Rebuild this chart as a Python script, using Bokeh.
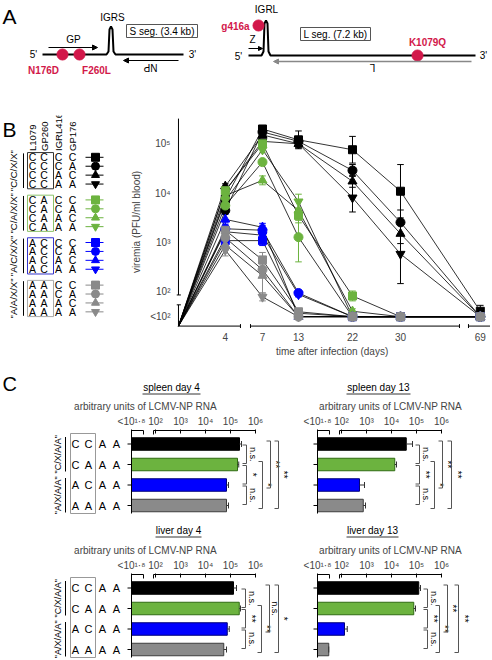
import math
from bokeh.plotting import figure
from bokeh.layouts import column, row
from bokeh.models import Range1d, LinearAxis, FixedTicker, Arrow, NormalHead
from bokeh.core.properties import value
from bokeh.embed import file_html
from bokeh.resources import INLINE

FONT = "Liberation Sans"

# ---------------------------------------------------------------- data
# Panel B: viremia, log10(PFU/ml blood); 1.5 stands for "<10²" (below detection)
DAYS = [4, 7, 13, 22, 30, 69]
TABLE_HEADERS = ["L1079", "GP260", "IGRL416", "GP176"]
GROUP_NAMES = ['"C/C/X/X"', '"C/A/X/X"', '"A/C/X/X"', '"A/A/X/X"']
GROUP_CODES = [["C", "C"], ["C", "A"], ["A", "C"], ["A", "A"]]      # L1079, GP260
SUB_CODES = [["C", "C"], ["C", "A"], ["A", "C"], ["A", "A"]]        # IGRL416, GP176
MARKERS = ["square", "circle", "triangle", "inverted_triangle"]

VIREMIA_CC = [[3.88, 5.30, 5.08, 4.88, 4.04, 1.61],
              [3.65, 5.24, 5.05, 4.46, 3.41, 1.50],
              [4.14, 5.18, 5.00, 4.24, 3.18, 1.50],
              [4.05, 5.05, 5.00, 3.91, 2.77, 1.50]]
ERR_CC = [[0.08, 0.04, 0.18, 0.27, 0.54, 0.12],
          [0.05, 0.04, 0.10, 0.12, 0.25, 0.00],
          [0.05, 0.04, 0.08, 0.12, 0.20, 0.00],
          [0.05, 0.04, 0.08, 0.29, 0.60, 0.00]]
VIREMIA_CA = [[4.05, 5.00, 3.55, 1.92, 1.50, 1.50],
              [3.75, 4.63, 3.11, 1.50, 1.50, 1.50],
              [3.95, 4.26, 3.65, 1.61, 1.50, 1.50],
              [3.85, 4.88, 3.83, 1.50, 1.50, 1.50]]
ERR_CA = [[0.05, 0.05, 0.15, 0.10, 0.0, 0.0],
          [0.05, 0.05, 0.50, 0.00, 0.0, 0.0],
          [0.05, 0.09, 0.20, 0.05, 0.0, 0.0],
          [0.05, 0.05, 0.15, 0.00, 0.0, 0.0]]
VIREMIA_AC = [[3.04, 3.04, 1.57, 1.50, 1.50, 1.50],
              [3.28, 3.25, 1.98, 1.50, 1.50, 1.50],
              [3.47, 3.31, 1.50, 1.50, 1.50, 1.50],
              [3.22, 3.15, 1.95, 1.50, 1.50, 1.50]]
ERR_AC = [[0.18, 0.10, 0.08, 0.0, 0.0, 0.0],
          [0.12, 0.10, 0.06, 0.0, 0.0, 0.0],
          [0.10, 0.08, 0.00, 0.0, 0.0, 0.0],
          [0.12, 0.10, 0.05, 0.0, 0.0, 0.0]]
VIREMIA_AA = [[3.25, 2.65, 1.60, 1.50, 1.50, 1.50],
              [3.10, 2.45, 1.50, 1.50, 1.50, 1.50],
              [2.95, 2.33, 1.50, 1.50, 1.50, 1.50],
              [2.85, 1.90, 1.50, 1.50, 1.50, 1.50]]
ERR_AA = [[0.10, 0.15, 0.05, 0.0, 0.0, 0.0],
          [0.10, 0.10, 0.00, 0.0, 0.0, 0.0],
          [0.10, 0.35, 0.00, 0.0, 0.0, 0.0],
          [0.12, 0.08, 0.00, 0.0, 0.0, 0.0]]
VIREMIA = [VIREMIA_CC, VIREMIA_CA, VIREMIA_AC, VIREMIA_AA]
VIREMIA_ERR = [ERR_CC, ERR_CA, ERR_AC, ERR_AA]
Y_TICKS = [1.5, 2, 3, 4, 5]
Y_TICK_LABELS = ["<10²", "10²", "10³", "10⁴", "10⁵"]

# Panel C: log10 arbitrary units of LCMV-NP RNA
C_ROWS = [["C", "C", "A", "A"], ["C", "A", "A", "A"], ["A", "C", "A", "A"], ["A", "A", "A", "A"]]
C_GROUPS = ['"C/X/A/A"', '"A/X/A/A"']
SPLEEN_D4 = [5.36, 5.28, 4.84, 4.84]
SPLEEN_D4_ERR = [0.08, 0.05, 0.08, 0.08]
SPLEEN_D13 = [4.59, 4.13, 2.72, 2.87]
SPLEEN_D13_ERR = [0.25, 0.07, 0.20, 0.09]
LIVER_D4 = [5.12, 5.35, 4.87, 4.73]
LIVER_D4_ERR = [0.12, 0.05, 0.08, 0.11]
LIVER_D13 = [5.09, 4.89, 2.12, 1.49]
LIVER_D13_ERR = [0.07, 0.07, 0.11, 0.0]
C_TICKS = [1.04, 2, 3, 4, 5, 6]
C_TICK_LABELS = ["<10¹·⁸", "10²", "10³", "10⁴", "10⁵", "10⁶"]
SIG_SPLEEN_D4 = {(0, 1): "n.s.", (1, 2): "*", (2, 3): "n.s.", (1, 3): "*", (0, 2): "**", (0, 3): "**"}
SIG_SPLEEN_D13 = {(0, 1): "n.s.", (1, 2): "**", (2, 3): "n.s.", (1, 3): "*", (0, 2): "**", (0, 3): "**"}
SIG_LIVER_D4 = {(0, 1): "n.s.", (1, 2): "**", (2, 3): "n.s.", (1, 3): "**", (0, 2): "n.s.", (0, 3): "*"}
SIG_LIVER_D13 = {(0, 1): "n.s.", (1, 2): "**", (2, 3): "n.s.", (1, 3): "**", (0, 2): "**", (0, 3): "**"}

# ---------------------------------------------------------------- styles
GROUP_COLORS = ["#000000", "#6cb33f", "#0000ff", "#8a8a8a"]
BOX_COLORS = ["#333333", "#8cc26a", "#3333cc", "#aaaaaa"]
BAR_EDGE = ["#000000", "#2f6b12", "#00007a", "#3c3c3c"]
RED = "#d2184a"


def make_fig(w, h, xr, yr, bl=0, br=0, bt=0, bb=0):
    p = figure(width=w, height=h, x_range=xr, y_range=yr, x_axis_type=None, y_axis_type=None,
               output_backend="svg", toolbar_location=None,
               min_border_left=bl, min_border_right=br, min_border_top=bt, min_border_bottom=bb)
    p.outline_line_color = None
    p.background_fill_color = "white"
    p.border_fill_color = "white"
    return p


def T(p, x, y, s, size=10, color="#000000", align="center", baseline="middle", angle=0.0, bold=False, xr=None):
    kw = {"x_range_name": xr} if xr else {}
    p.text(x=[x], y=[y], text=[s], text_font=value(FONT), text_font_size=f"{size}px",
           text_color=color, text_align=align, text_baseline=baseline, angle=angle,
           text_font_style="bold" if bold else "normal", **kw)


def overrides(ticks, labels):
    d = {}
    for t, l in zip(ticks, labels):
        d[t] = l
        d[str(t)] = l
    return d


# ---------------------------------------------------------------- panel A (schematic)
pa = make_fig(490, 95, Range1d(0, 490), Range1d(95, 0))
T(pa, 2, 16, "A", size=21, align="left")
pa.line([42, 106, 108, 109, 110.5, 112, 113, 115, 183], [54, 54, 51, 29, 26, 29, 51, 54, 54],
        line_width=2, line_color="black")
T(pa, 33, 54, "5'", size=10)
T(pa, 192, 54, "3'", size=10)
T(pa, 112, 17, "IGRS", size=10)
pa.quad(left=[126], right=[197], top=[24], bottom=[37], fill_color=None, line_color="#555555")
T(pa, 161.5, 31, "S seg. (3.4 kb)", size=10)
T(pa, 73, 39, "GP", size=10)
pa.add_layout(Arrow(end=NormalHead(size=5, fill_color="black", line_color="black"),
                    x_start=48, y_start=47, x_end=97, y_end=47, line_width=1))
pa.add_layout(Arrow(end=NormalHead(size=5, fill_color="black", line_color="black"),
                    x_start=178, y_start=60, x_end=123, y_end=60, line_width=1))
T(pa, 150, 67, "NP", size=10, angle=math.pi)
pa.scatter([62, 79], [54, 54], size=11, color=RED)
T(pa, 43, 70, "N176D", size=10, color=RED, bold=True)
T(pa, 96, 70, "F260L", size=10, color=RED, bold=True)

pa.line([248, 261, 263, 264, 265.5, 267, 268, 270, 475], [55, 55, 51, 23, 20, 23, 51, 55, 55],
        line_width=2, line_color="black")
T(pa, 238, 56, "5'", size=10)
T(pa, 483, 55, "3'", size=10)
T(pa, 266, 9, "IGRL", size=10)
pa.scatter([258], [25], size=11, color=RED)
T(pa, 235, 26, "g416a", size=10, color=RED, bold=True)
T(pa, 252, 39, "Z", size=10)
pa.add_layout(Arrow(end=NormalHead(size=4, fill_color="black", line_color="black"),
                    x_start=248, y_start=48, x_end=262, y_end=48, line_width=1))
pa.quad(left=[300], right=[370], top=[27], bottom=[40], fill_color=None, line_color="#555555")
T(pa, 335, 33.5, "L seg. (7.2 kb)", size=10)
pa.scatter([417], [55], size=11, color=RED)
T(pa, 427, 42, "K1079Q", size=10, color=RED, bold=True)
pa.add_layout(Arrow(end=NormalHead(size=5, fill_color="#888888", line_color="#888888"),
                    x_start=471, y_start=61, x_end=273, y_end=61, line_width=1.5, line_color="#888888"))
T(pa, 372, 67, "L", size=10, angle=math.pi)

# ---------------------------------------------------------------- panel B table
pt = make_fig(120, 270, Range1d(0, 120), Range1d(365, 95))
T(pt, 2, 113, "B", size=21, align="left")
COLS = [32, 43.5, 58, 72]
for cx, hname in zip(COLS, TABLE_HEADERS):
    T(pt, cx, 140, hname, size=9.5, align="left", angle=math.pi / 2)
for g in range(4):
    ys = [148 + 54 * g + 11.3 * r for r in range(4)]
    for r in range(4):
        letters = GROUP_CODES[g] + SUB_CODES[r]
        for cx, ch in zip(COLS, letters):
            T(pt, cx, ys[r], ch, size=10.5)
        pt.line([85, 103], [ys[r], ys[r]], line_color=GROUP_COLORS[g], line_width=1)
        pt.scatter([95], [ys[r]], marker=MARKERS[r], size=8, color=GROUP_COLORS[g])
    pt.quad(left=[27], right=[53], top=[ys[0] - 6], bottom=[ys[3] + 6], fill_color=None,
            line_color=BOX_COLORS[g], line_width=1)
    pt.line([23, 23], [ys[0] - 5, ys[3] + 5], line_color="black", line_width=1)
    T(pt, 13, (ys[0] + ys[3]) / 2, GROUP_NAMES[g], size=9.5, angle=math.pi / 2)

# ---------------------------------------------------------------- panel B chart
XPOS = [7.8, 14.0, 20.0, 29.0, 37.0, 50.3]     # broken-axis positions of DAYS
ORIGIN_X, ORIGIN_Y = 0.0, 1.31
pb = make_fig(370, 270, Range1d(-0.33, 52.0), Range1d(1.261, 5.573), bl=56, br=0, bt=20, bb=37)
for g in range(4):
    for s in range(4):
        pb.line([ORIGIN_X] + XPOS, [ORIGIN_Y] + VIREMIA[g][s], line_color="black", line_width=0.8)
for g in range(4):
    for s in range(4):
        ex, lo, hi = [], [], []
        for x, v, e in zip(XPOS, VIREMIA[g][s], VIREMIA_ERR[g][s]):
            if e > 0:
                ex.append(x); lo.append(v - e); hi.append(v + e)
        if ex:
            c = GROUP_COLORS[g]
            pb.segment(x0=ex, y0=lo, x1=ex, y1=hi, line_color=c, line_width=1)
            pb.segment(x0=[x - 0.55 for x in ex], y0=lo, x1=[x + 0.55 for x in ex], y1=lo, line_color=c)
            pb.segment(x0=[x - 0.55 for x in ex], y0=hi, x1=[x + 0.55 for x in ex], y1=hi, line_color=c)
for g in range(4):
    for s in range(4):
        pb.scatter(XPOS, VIREMIA[g][s], marker=MARKERS[s], size=9 if s else 8, color=GROUP_COLORS[g])
# broken axes lines
pb.segment(x0=[0, 12, 48.33], y0=[ORIGIN_Y] * 3, x1=[10.33, 46.83, 52], y1=[ORIGIN_Y] * 3,
           line_color="black", line_width=1)
pb.segment(x0=[10.33, 12, 46.83, 48.33], y0=[ORIGIN_Y - 0.04] * 4, x1=[10.33, 12, 46.83, 48.33],
           y1=[ORIGIN_Y + 0.04] * 4, line_color="black")
pb.segment(x0=[0, 0], y0=[ORIGIN_Y, 1.94], x1=[0, 0], y1=[1.74, 5.51], line_color="black", line_width=1)
pb.segment(x0=[-0.33, -0.33], y0=[1.74, 1.94], x1=[0.4, 0.4], y1=[1.74, 1.94], line_color="black")

yax = LinearAxis(ticker=FixedTicker(ticks=Y_TICKS), major_label_overrides=overrides(Y_TICKS, Y_TICK_LABELS),
                 axis_label="viremia (PFU/ml blood)", axis_line_color=None, major_tick_in=0, major_tick_out=0,
                 minor_tick_line_color=None, major_label_standoff=6, axis_label_standoff=5,
                 major_label_text_font=FONT, major_label_text_font_size="10px",
                 axis_label_text_font=FONT, axis_label_text_font_size="10px", axis_label_text_font_style="normal")
pb.add_layout(yax, "left")
xax = LinearAxis(ticker=FixedTicker(ticks=XPOS), major_label_overrides=overrides(XPOS, [str(d) for d in DAYS]),
                 axis_label="time after infection  (days)", axis_line_color=None, major_tick_in=0, major_tick_out=0,
                 minor_tick_line_color=None, major_label_standoff=4, axis_label_standoff=2,
                 major_label_text_font=FONT, major_label_text_font_size="10px",
                 axis_label_text_font=FONT, axis_label_text_font_size="10px", axis_label_text_font_style="normal")
pb.add_layout(xax, "below")

# ---------------------------------------------------------------- panel C headers
ph1 = make_fig(490, 32, Range1d(0, 490), Range1d(397, 365))
T(ph1, 2, 383, "C", size=20, align="left")
T(ph1, 171, 387, "spleen day 4", size=10)
ph1.line([142, 200], [393.5, 393.5], line_color="black", line_width=0.8)
T(ph1, 378, 387, "spleen day 13", size=10)
ph1.line([346, 410], [393.5, 393.5], line_color="black", line_width=0.8)

ph2 = make_fig(490, 25, Range1d(0, 490), Range1d(540, 515))
T(ph2, 178, 530, "liver day 4", size=10)
ph2.line([155, 201], [536.5, 536.5], line_color="black", line_width=0.8)
T(ph2, 372, 530, "liver day 13", size=10)
ph2.line([346, 398], [536.5, 536.5], line_color="black", line_width=0.8)

ROW_OFFS = [13.5, 34, 54.5, 75]
BAR_H = 12.5


def c_panel(w, h, xlo, xhi, ybot, ytop_frame, bt, x0, vals, errs, sig, bpos, left):
    # x range in layout units, "val" range in log10 units (10² sits 24 units right of axis start, 25 per decade)
    p = make_fig(w, h, Range1d(xlo, xhi), Range1d(ybot, ytop_frame), bt=bt)
    v = lambda x: 2 + (x - (x0 + 24)) / 25.0
    p.extra_x_ranges = {"val": Range1d(v(xlo), v(xhi))}
    ax_y = ytop_frame + 1
    rows_y = [ax_y + o for o in ROW_OFFS]
    amin = C_TICKS[0]
    p.hbar(y=rows_y, left=amin, right=vals, height=BAR_H, fill_color=GROUP_COLORS,
           line_color=BAR_EDGE, line_width=1, x_range_name="val")
    ex = [b + e for b, e in zip(vals, errs)]
    p.segment(x0=vals, y0=rows_y, x1=ex, y1=rows_y, line_color="#333333", x_range_name="val")
    p.segment(x0=ex, y0=[y - 3 for y in rows_y], x1=ex, y1=[y + 3 for y in rows_y],
              line_color="#333333", x_range_name="val")
    # broken top axis and left axis
    p.segment(x0=[amin, 1.92], y0=[ax_y, ax_y], x1=[1.52, 6.0], y1=[ax_y, ax_y], line_color="black",
              x_range_name="val")
    p.segment(x0=[1.52, 1.92], y0=[ax_y, ax_y], x1=[1.52, 1.92], y1=[ax_y + 4, ax_y + 4], line_color="black",
              x_range_name="val")
    p.line([x0, x0], [ax_y, rows_y[-1] + 8], line_color="black")
    p.segment(x0=[x0 - 4] * 4, y0=rows_y, x1=[x0] * 4, y1=rows_y, line_color="black")
    ax = LinearAxis(x_range_name="val", ticker=FixedTicker(ticks=C_TICKS),
                    major_label_overrides=overrides(C_TICKS, C_TICK_LABELS),
                    axis_label="arbitrary units of LCMV-NP RNA", axis_line_color=None,
                    major_tick_in=4, major_tick_out=0, minor_tick_line_color=None,
                    major_label_standoff=3, axis_label_standoff=1,
                    major_label_text_font=FONT, major_label_text_font_size="10px",
                    axis_label_text_font=FONT, axis_label_text_font_size="10px",
                    axis_label_text_font_style="normal")
    p.add_layout(ax, "above")
    # significance brackets
    for (i, j), lab in sig.items():
        if j - i == 1:
            bx, tx = bpos[0]
            y1, y2 = rows_y[i] + 1, rows_y[j] - 1
        else:
            bx, tx = bpos[{(1, 3): 1, (0, 2): 2, (0, 3): 3}[(i, j)]]
            y1, y2 = rows_y[i] - 3, rows_y[j] + 3
        p.line([bx - 4, bx, bx, bx - 4], [y1, y1, y2, y2], line_color="#555555", line_width=1)
        T(p, tx, (y1 + y2) / 2, lab, size=10 if lab != "n.s." else 9, angle=-math.pi / 2)
    if left:
        CX = [75, 88, 102, 116]
        for r in range(4):
            for cx, ch in zip(CX, C_ROWS[r]):
                T(p, cx, rows_y[r], ch, size=11)
        p.quad(left=[70], right=[95], top=[ax_y + 3], bottom=[rows_y[-1] + 8], fill_color=None,
               line_color="#999999")
        for k in range(2):
            ya, yb = rows_y[2 * k] - 8, rows_y[2 * k + 1] + 8
            p.line([65, 65], [ya + 1, yb - 1], line_color="black")
            T(p, 57, (ya + yb) / 2, C_GROUPS[k], size=9, angle=math.pi / 2)
    return p


pc1 = c_panel(290, 118, 0, 290, 515, 429, 32, 131, SPLEEN_D4, SPLEEN_D4_ERR, SIG_SPLEEN_D4,
              [(246, 252), (262, 267), (270, 275), (278, 283)], True)
pc2 = c_panel(200, 118, 290, 490, 515, 429, 32, 317, SPLEEN_D13, SPLEEN_D13_ERR, SIG_SPLEEN_D13,
              [(419, 425), (434, 439), (442, 447), (451, 457)], False)
pc3 = c_panel(290, 118, 0, 290, 658, 573, 33, 131, LIVER_D4, LIVER_D4_ERR, SIG_LIVER_D4,
              [(245, 251), (261, 266), (269, 274), (278, 283)], True)
pc4 = c_panel(200, 118, 290, 490, 658, 573, 33, 317, LIVER_D13, LIVER_D13_ERR, SIG_LIVER_D13,
              [(427, 433), (439, 444), (447, 452), (458, 464)], False)

layout = column(pa, row(pt, pb), ph1, row(pc1, pc2), ph2, row(pc3, pc4))
open("out.html", "w").write(file_html(layout, INLINE))
